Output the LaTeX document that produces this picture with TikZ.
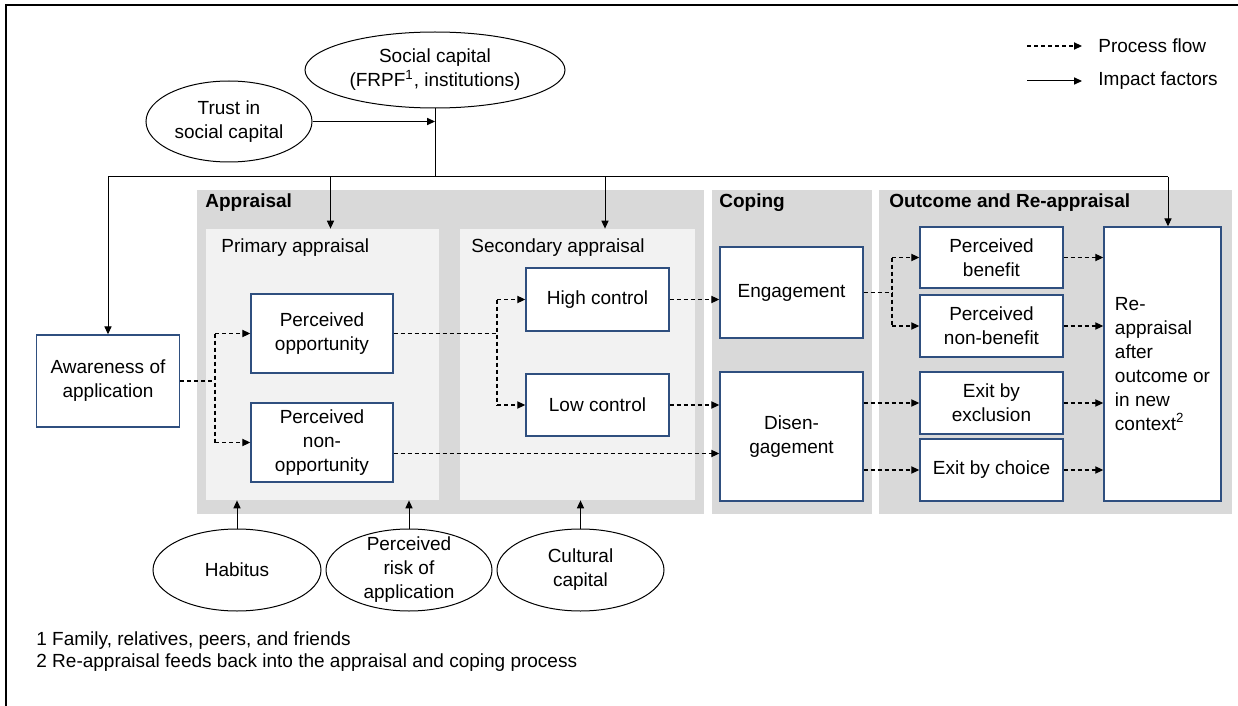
\documentclass[tikz,border=0pt]{standalone}
\usepackage{fontspec}
\setmainfont{Liberation Sans}
\usetikzlibrary{arrows.meta,shapes.geometric,calc}
\definecolor{boxblue}{HTML}{2F4F7F}
\definecolor{outergray}{HTML}{D9D9D9}
\definecolor{innergray}{HTML}{F2F2F2}

\begin{document}
\begin{tikzpicture}[x=0.5pt,y=-0.5pt,
	font=\fontsize{9.5pt}{12pt}\selectfont,
	stage/.style={fill=outergray,minimum height=162pt,inner sep=0},
	substage/.style={fill=innergray,minimum height=135.5pt,inner sep=0},
	stagelabel/.style={anchor=west,inner sep=0,font=\fontsize{9.5pt}{12pt}\selectfont\bfseries},
	sublabel/.style={anchor=west,inner sep=0},
	box/.style={draw=boxblue,line width=0.7pt,fill=white,align=center,inner sep=1pt,minimum width=71.5pt},
	factor/.style={draw,ellipse,line width=0.5pt,inner sep=0,fill=white},
	tip/.style={-{Triangle[length=4pt,width=3.6pt]}},
	impact/.style={line width=0.5pt,tip},
	flow/.style={line width=0.6pt,dash pattern=on 2pt off 1.5pt},
	flowarrow/.style={flow,tip},
]
	\useasboundingbox (0,0) rectangle (1238,706);
	\draw[line width=1pt] (1238,5) -- (6,5) -- (6,706);

	% stages
	\node[stage,minimum width=253.5pt] (appr) at (450.5,352) {};
	\node[stage,minimum width=80pt] (cope) at (792,352) {};
	\node[stage,minimum width=176.5pt] (outc) at (1055.5,352) {};
	\node[substage,minimum width=116.5pt] (prim) at (322.5,364.5) {};
	\node[substage,minimum width=117.5pt] (sec) at (577.5,364.5) {};
	\node[stagelabel] (lblappr) at (205,203) {Appraisal};
	\node[stagelabel] (lblcope) at (719,203) {Coping};
	\node[stagelabel] (lbloutc) at (889,203) {Outcome and Re-appraisal};
	\node[sublabel] (lblprim) at (221,248) {Primary appraisal};
	\node[sublabel] (lblsec) at (471,248) {Secondary appraisal};

	% process boxes
	\node[box,minimum height=46pt] (aware) at (108,381) {Awareness of\\application};
	\node[box,minimum width=71pt,minimum height=39.5pt] (opp) at (322,333.5) {Perceived\\opportunity};
	\node[box,minimum width=71pt,minimum height=39.5pt] (nonopp) at (322,442.5) {Perceived\\non-\\opportunity};
	\node[box,minimum height=31.5pt] (high) at (597.5,299.5) {High control};
	\node[box,minimum height=31pt] (low) at (597.5,405) {Low control};
	\node[box,minimum height=45.5pt] (eng) at (791.5,292.5) {Engagement};
	\node[box,minimum height=64.5pt] (disen) at (791.5,436.5) {Disen-\\gagement};
	\node[box,minimum height=30.5pt] (ben) at (991.5,257.5) {Perceived\\benefit};
	\node[box,minimum height=31pt] (nonben) at (991.5,326) {Perceived\\non-benefit};
	\node[box,minimum height=31pt] (excl) at (991.5,403) {Exit by\\exclusion};
	\node[box,minimum height=31pt] (choice) at (991.5,470) {Exit by choice};
	\node[box,align=left,minimum width=58.5pt,minimum height=137pt] (reapp) at (1162.5,364) {Re-\\appraisal\\after\\outcome or\\in new\\context\textsuperscript{2}};

	% impact factors
	\node[factor,minimum width=130pt,minimum height=38pt,label={[align=center]center:Social capital\\(FRPF\textsuperscript{1}, institutions)}] (social) at (435,70) {};
	\node[factor,minimum width=83pt,minimum height=40.5pt,label={[align=center]center:Trust in\\social capital}] (trust) at (229,121.5) {};
	\node[factor,minimum width=84pt,minimum height=41pt,label={[align=center]center:Habitus}] (habitus) at (237,570) {};
	\node[factor,minimum width=83pt,minimum height=41pt,label={[align=center]center:Perceived\\risk of\\application}] (risk) at (409,570) {};
	\node[factor,minimum width=83.5pt,minimum height=41pt,label={[align=center]center:Cultural\\capital}] (cultural) at (580.5,570) {};

	\coordinate (hl) at (108,177);
	\coordinate (hr) at (1168,177);
	\draw[line width=0.5pt] (social.south) -- (social.south |- hl);
	\draw[impact] (trust.east) -- (trust.east -| social.south);
	\draw[line width=0.5pt] (hl) -- (hr);
	\draw[impact] (hl) -- (aware.north);
	\coordinate (ptop) at ([xshift=4pt]prim.north);
	\draw[impact] (ptop |- hl) -- (ptop);
	\coordinate (stop) at ([xshift=13.75pt]sec.north);
	\draw[impact] (stop |- hl) -- (stop);
	\draw[impact] (hr) -- (hr |- reapp.north);
	\draw[impact] (habitus.north) -- (habitus.north |- prim.south);
	\draw[impact] (risk.north) -- (risk.north |- prim.south);
	\draw[impact] (cultural.north) -- (cultural.north |- sec.south);

	% process flow
	\coordinate (j1) at (215,0);
	\draw[flow] (aware.east) -- (aware.east -| j1);
	\draw[flow] (j1 |- opp) -- (j1 |- nonopp);
	\draw[flowarrow] (j1 |- opp) -- (opp.west);
	\draw[flowarrow] (j1 |- nonopp) -- (nonopp.west);
	\coordinate (j2) at (497,0);
	\draw[flow] (opp.east) -- (opp.east -| j2);
	\draw[flow] (j2 |- high) -- (j2 |- low);
	\draw[flowarrow] (j2 |- high) -- (high.west);
	\draw[flowarrow] (j2 |- low) -- (low.west);
	\draw[flowarrow] (high.east) -- (high.east -| eng.west);
	\draw[flowarrow] (low.east) -- (low.east -| disen.west);
	\coordinate (nx) at ([yshift=-5.5pt]nonopp.east);
	\draw[flowarrow] (nx) -- (nx -| disen.west);
	\coordinate (j3) at (892,0);
	\draw[flow] (eng.east) -- (eng.east -| j3);
	\draw[flow] (j3 |- ben) -- (j3 |- nonben);
	\draw[flowarrow] (j3 |- ben) -- (ben.west);
	\draw[flowarrow] (j3 |- nonben) -- (nonben.west);
	\draw[flowarrow] (disen.east |- excl) -- (excl.west);
	\draw[flowarrow] (disen.east |- choice) -- (choice.west);
	\foreach \n in {ben,nonben,excl,choice} {
		\draw[flowarrow] (\n.east) -- (\n.east -| reapp.west);
	}

	% legend
	\node[sublabel] (lgflow) at (1098,46) {Process flow};
	\node[sublabel] (lgimpact) at (1098,81) {Impact factors};
	\draw[flowarrow] ([xshift=-35.5pt]lgflow.west) -- ([xshift=-8pt]lgflow.west);
	\draw[impact] ([xshift=-35.5pt]lgimpact.west) -- ([xshift=-8pt]lgimpact.west);

	% footnotes
	\node[sublabel] (fn1) at (36,641) {1 Family, relatives, peers, and friends};
	\node[sublabel] (fn2) at (36,663) {2 Re-appraisal feeds back into the appraisal and coping process};
\end{tikzpicture}
\end{document}
